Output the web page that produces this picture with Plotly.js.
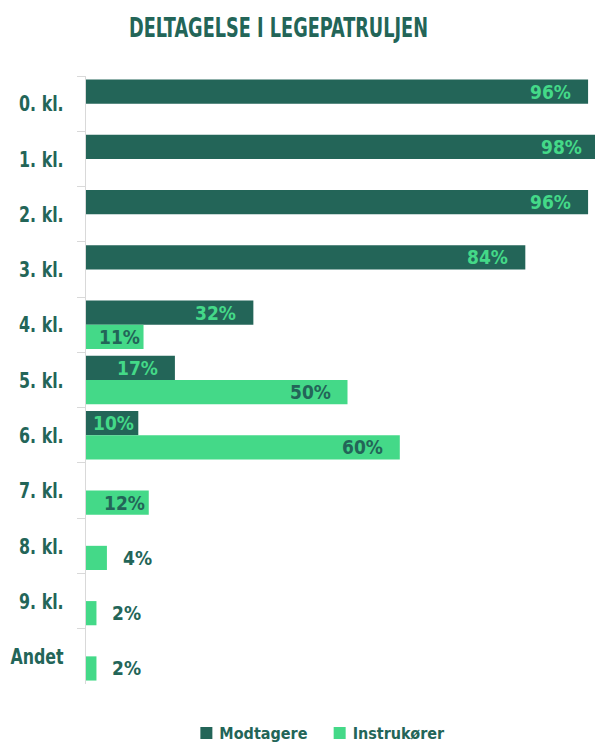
<!DOCTYPE html>
<html>
<head>
<meta charset="utf-8">
<script src="https://cdn.plot.ly/plotly-3.0.1.min.js"></script>
<style>
html, body { margin: 0; padding: 0; overflow: hidden; background: #fff; }
#chart { width: 610px; height: 744px; }
</style>
</head>
<body>
<div id="chart"></div>
<script>
const categories = ["0. kl.", "1. kl.", "2. kl.", "3. kl.", "4. kl.", "5. kl.", "6. kl.", "7. kl.", "8. kl.", "9. kl.", "Andet"];
const modtagere = [96, 98, 96, 84, 32, 17, 10, null, null, null, null];
const instruktorer = [null, null, null, null, 11, 50, 60, 12, 4, 2, 2];
const seriesNames = ["Modtagere", "Instrukører"];

const DARK = "#236558";
const LIGHT = "#44D988";
const COND = "DejaVu Sans Condensed, DejaVu Sans, sans-serif";

const traces = [
  { type: "bar", orientation: "h", name: seriesNames[0], y: categories, x: modtagere,
    marker: { color: DARK }, hoverinfo: "none" },
  { type: "bar", orientation: "h", name: seriesNames[1], y: categories, x: instruktorer,
    marker: { color: LIGHT }, hoverinfo: "none" }
];

function labelFor(v, cat, shiftY, insideColor) {
  let ann = { x: v, y: cat, xref: "x", yref: "y", text: v + "%", showarrow: false,
    yshift: shiftY, font: { family: COND, size: 19, weight: 700, color: insideColor } };
  if (v >= 15) { ann.xanchor = "right"; ann.xshift = -15; }
  else if (v >= 10) { ann.xanchor = "right"; ann.xshift = -2; }
  else { ann.xanchor = "left"; ann.xshift = 14; ann.font.color = DARK; }
  return ann;
}

const annotations = [];
categories.forEach((c, i) => {
  if (modtagere[i] != null) annotations.push(labelFor(modtagere[i], c, 12.1, LIGHT));
  if (instruktorer[i] != null) annotations.push(labelFor(instruktorer[i], c, -12.1, DARK));
});

const layout = {
  width: 610, height: 744,
  margin: { l: 86, r: 1, t: 76, b: 60 },
  paper_bgcolor: "#fff", plot_bgcolor: "#fff",
  title: { text: "DELTAGELSE I LEGEPATRULJEN", x: 0.4566, xanchor: "center", xref: "container",
    y: 0.962, yanchor: "middle", yref: "container",
    font: { family: COND, size: 26, weight: 700, color: DARK } },
  barmode: "group", bargap: 0.125, bargroupgap: 0,
  xaxis: { range: [0, 100], showticklabels: false, showgrid: false, zeroline: false, showline: false, fixedrange: true },
  yaxis: { type: "category", autorange: "reversed", showline: true, linecolor: "#d9d9d9", linewidth: 1,
    ticks: "outside", ticklen: 8, tickcolor: "#d9d9d9", tickson: "boundaries", ticklabelstandoff: 17,
    showgrid: false, zeroline: false,
    tickfont: { family: COND, size: 22, weight: 700, color: DARK } },
  showlegend: true,
  legend: { orientation: "h", x: 0.451, xanchor: "center", xref: "paper",
    y: 0.0148, yanchor: "middle", yref: "container",
    font: { family: COND, size: 16, weight: 700, color: DARK }, itemwidth: 30, traceorder: "normal" },
  annotations: annotations
};

function squeeze(el, factor) {
  const w = el.getComputedTextLength();
  if (w > 0) {
    el.setAttribute("textLength", (w * factor).toFixed(1));
    el.setAttribute("lengthAdjust", "spacingAndGlyphs");
  }
}

Plotly.newPlot("chart", traces, layout, { displayModeBar: false, staticPlot: true }).then(() => {
  const t = document.querySelector(".gtitle");
  if (t) squeeze(t, 299 / t.getComputedTextLength());
  document.querySelectorAll(".ytick text").forEach(el => squeeze(el, 0.8));
  document.querySelectorAll(".legendtext").forEach(el => el.setAttribute("x", 33));
});
</script>
</body>
</html>
